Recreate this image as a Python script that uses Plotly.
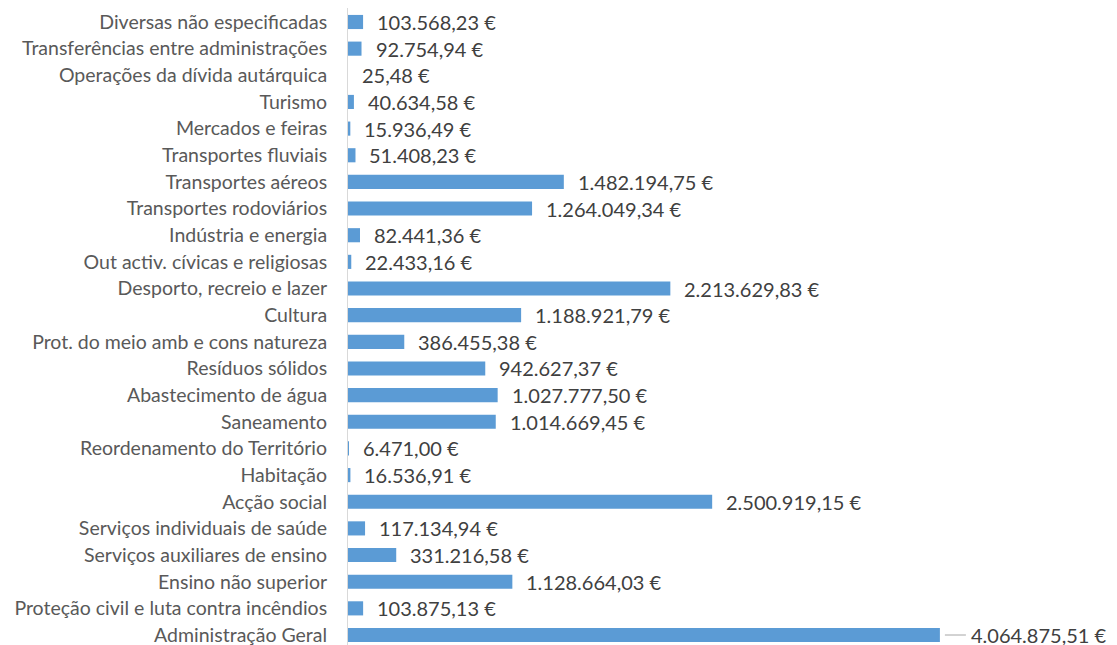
import plotly.graph_objects as go

categories = [
    "Administração Geral",
    "Proteção civil e luta contra incêndios",
    "Ensino não superior",
    "Serviços auxiliares de ensino",
    "Serviços individuais de saúde",
    "Acção social",
    "Habitação",
    "Reordenamento do Território",
    "Saneamento",
    "Abastecimento de água",
    "Resíduos sólidos",
    "Prot. do meio amb e cons natureza",
    "Cultura",
    "Desporto, recreio e lazer",
    "Out activ. cívicas e religiosas",
    "Indústria e energia",
    "Transportes rodoviários",
    "Transportes aéreos",
    "Transportes fluviais",
    "Mercados e feiras",
    "Turismo",
    "Operações da dívida autárquica",
    "Transferências entre administrações",
    "Diversas não especificadas",
]
values = [
    4064875.51, 103875.13, 1128664.03, 331216.58, 117134.94, 2500919.15,
    16536.91, 6471.00, 1014669.45, 1027777.50, 942627.37, 386455.38,
    1188921.79, 2213629.83, 22433.16, 82441.36, 1264049.34, 1482194.75,
    51408.23, 15936.49, 40634.58, 25.48, 92754.94, 103568.23,
]


def fmt(v):
    s = f"{v:,.2f}"
    s = s.replace(",", "X").replace(".", ",").replace("X", ".")
    return s + " €"


labels = [fmt(v) for v in values]
FONT = "Lato"

fig = go.Figure(go.Bar(
    y=categories, x=values, orientation="h",
    marker=dict(color="#5B9BD5", line=dict(width=0)),
    width=0.53, hoverinfo="skip",
))

vmax = max(values)
annotations = []
for c, v, t in zip(categories, values, labels):
    if v == vmax:
        annotations.append(dict(
            x=v, y=c, text=t, xref="x", yref="y", xanchor="left",
            showarrow=True, arrowhead=0, arrowcolor="#a6a6a6", arrowwidth=1,
            ax=26, ay=0, standoff=5, borderpad=4,
            font=dict(family=FONT, size=20, color="#404040"),
        ))
    else:
        annotations.append(dict(
            x=v, y=c, text=t, xref="x", yref="y", xanchor="left",
            showarrow=False, xshift=12,
            font=dict(family=FONT, size=20, color="#404040"),
        ))

fig.update_layout(
    width=1117, height=645,
    margin=dict(l=340, r=15, t=0, b=8),
    paper_bgcolor="white", plot_bgcolor="white",
    showlegend=False,
    annotations=annotations,
    xaxis=dict(visible=False, range=[0, 5233000], showgrid=False, zeroline=False),
    yaxis=dict(
        range=[-0.375, 23.525], showgrid=False, zeroline=False,
        showline=True, linecolor="#d9d9d9", linewidth=1,
        ticks="", ticklabelstandoff=16,
        tickfont=dict(family=FONT, size=19.5, color="#595959"),
        automargin=False,
    ),
)

fig.write_html("out.html")
